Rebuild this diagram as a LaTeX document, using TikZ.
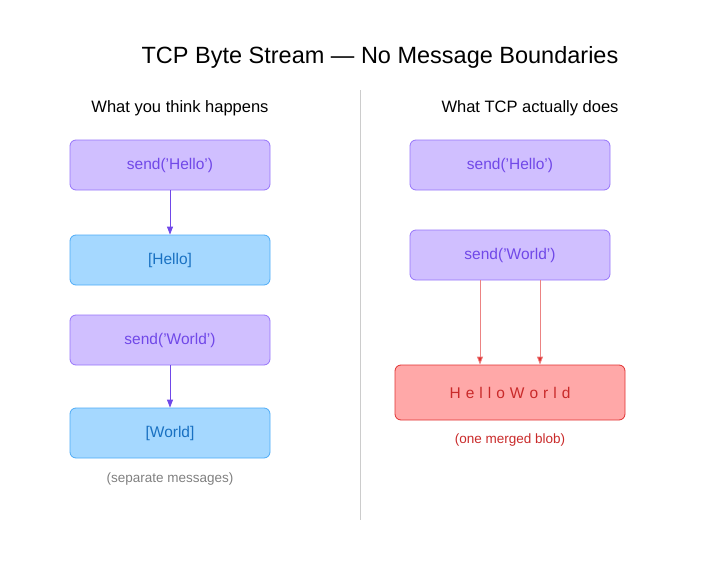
\documentclass[tikz,border=0pt]{standalone}
\usepackage{fontspec}
\setmainfont{Liberation Sans}
\usetikzlibrary{arrows.meta}
\definecolor{pf}{HTML}{D0BFFF}\definecolor{pd}{HTML}{9775FA}\definecolor{pt}{HTML}{7048E8}
\definecolor{bf}{HTML}{A5D8FF}\definecolor{bd}{HTML}{4DABF7}\definecolor{bt}{HTML}{1971C2}
\definecolor{rf}{HTML}{FFA8A8}\definecolor{rd}{HTML}{E03131}\definecolor{rt}{HTML}{C92A2A}
\begin{document}
\begin{tikzpicture}[x=1pt,y=-1pt,
 box/.style={draw,rounded corners=6pt,minimum width=200pt,minimum height=50pt,font=\fontsize{15.5}{18}\selectfont,line width=0.8pt},
 pb/.style={box,fill=pf,draw=pd,text=pt},
 bb/.style={box,fill=bf,draw=bd,text=bt},
 pa/.style={draw=pt,line width=0.8pt,-{Triangle[length=8pt,width=6pt]}},
 ra/.style={draw=rd!60,line width=0.8pt,-{Triangle[length=8pt,width=6pt,fill=rd]}}]
\useasboundingbox (0,0) rectangle (710,560);
\node[font=\fontsize{23.5}{27}\selectfont] (title) at (380,57) {TCP Byte Stream — No Message Boundaries};
\draw[gray!40,line width=0.8pt] (360,90) coordinate (d1) -- (360,520) coordinate (d2);
\node[font=\fontsize{16.5}{19}\selectfont] (lh) at (180,108) {What you think happens};
\node[font=\fontsize{16.5}{19}\selectfont] (rh) at (530,108) {What TCP actually does};
\node[pb] (l1) at (170,165) {send('Hello')};
\node[bb] (l2) at (170,260) {[Hello]};
\node[pb] (l3) at (170,340) {send('World')};
\node[bb] (l4) at (170,433) {[World]};
\draw[pa] (l1) -- (l2);
\draw[pa] (l3) -- (l4);
\node[font=\fontsize{13.5}{16}\selectfont,text=gray] (c1) at (170,479) {(separate messages)};
\node[pb] (r1) at (510,165) {send('Hello')};
\node[pb] (r2) at (510,255) {send('World')};
\node[box,minimum width=230pt,minimum height=55pt,fill=rf,draw=rd,text=rt] (blob) at (510,392.5) {H\hspace{5pt}e\hspace{5pt}l\hspace{5pt}l\hspace{5pt}o\hspace{5pt}W\hspace{5pt}o\hspace{5pt}r\hspace{5pt}l\hspace{5pt}d};
\coordinate (xa) at (480,0);\coordinate (xb) at (540,0);
\draw[ra] (r2.south-|xa) -- (blob.north-|xa);
\draw[ra] (r2.south-|xb) -- (blob.north-|xb);
\node[font=\fontsize{13.5}{16}\selectfont,text=rt] (c2) at (510,440) {(one merged blob)};
\end{tikzpicture}
\end{document}
